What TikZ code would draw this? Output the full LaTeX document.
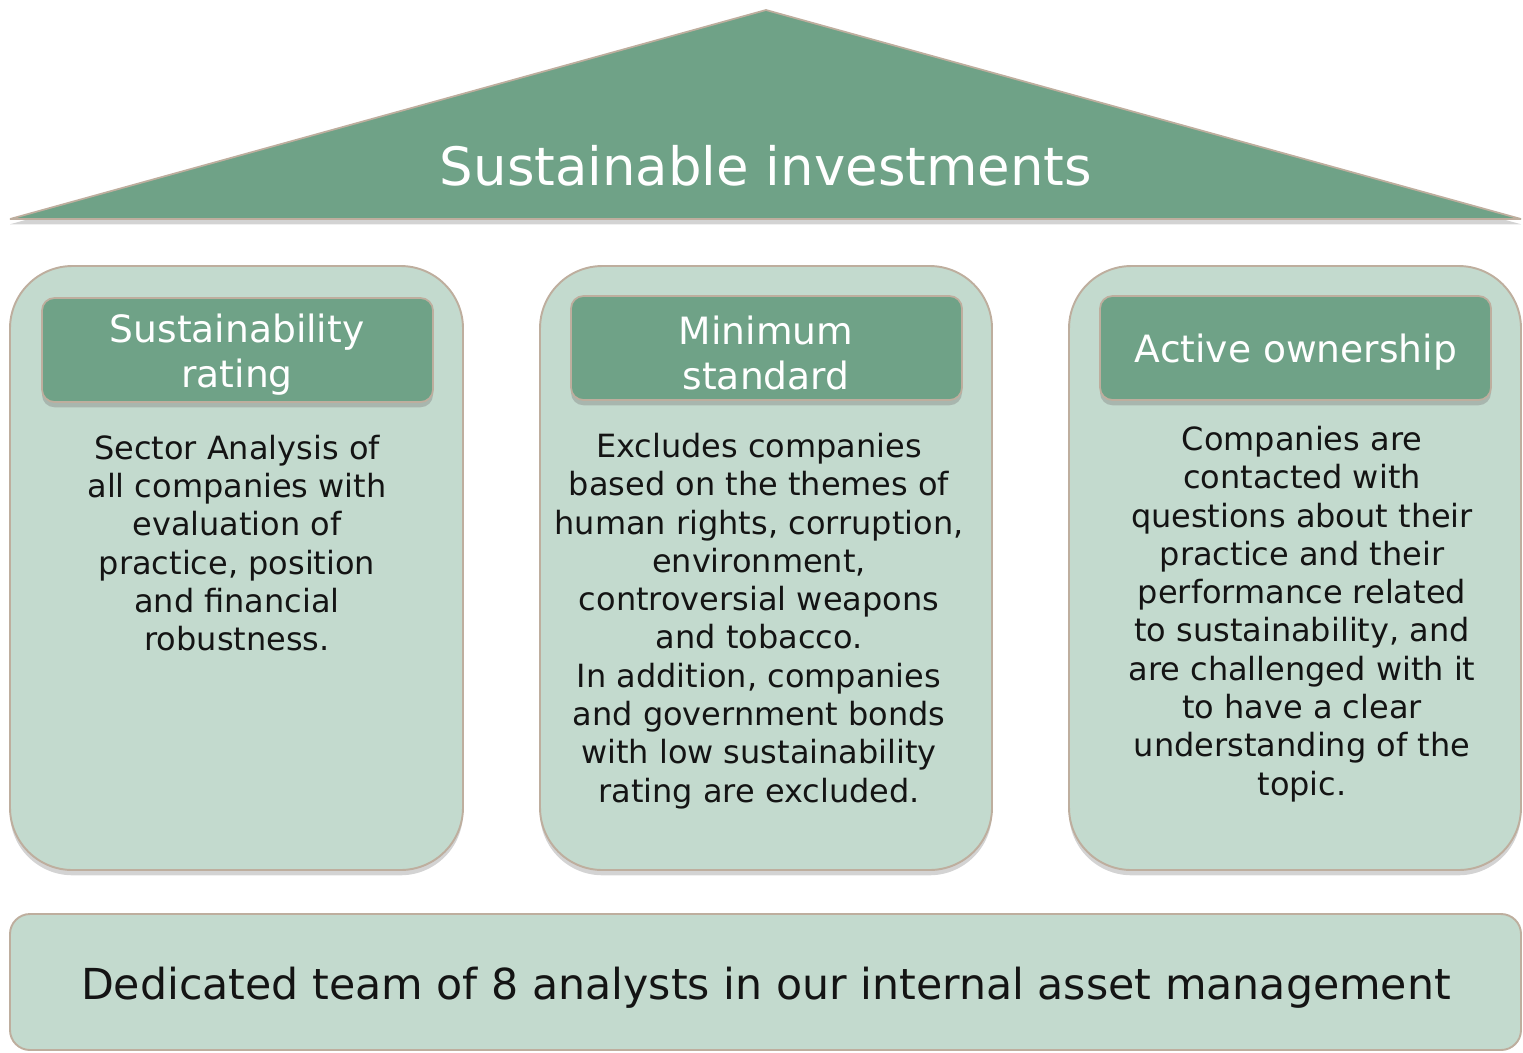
\documentclass[tikz,border=0pt]{standalone}
\usepackage{fontspec}
\setmainfont{DejaVu Sans}
\usetikzlibrary{shadows}

\definecolor{roofgreen}{RGB}{111,162,135}
\definecolor{palegreen}{RGB}{195,218,206}
\definecolor{rimtan}{RGB}{190,174,158}
\definecolor{bodytext}{RGB}{20,20,20}

\tikzset{
  pillar/.style={fill=palegreen, draw=rimtan, line width=1.1pt, rounded corners=1.25cm,
    drop shadow={shadow xshift=0pt, shadow yshift=-3pt, opacity=0.35}},
  pillarhead/.style={fill=roofgreen, draw=rimtan, line width=1pt, rounded corners=0.25cm,
    drop shadow={shadow xshift=0pt, shadow yshift=-3pt, opacity=0.4}},
  headtext/.style={text=white, align=center, font=\fontsize{21.4}{25.5}\selectfont},
  pillartext/.style={text=bodytext, align=center, font=\fontsize{18.2}{21.8}\selectfont}
}

\begin{document}
\begin{tikzpicture}[x=0.02cm, y=-0.02cm]
  \useasboundingbox (0,0) rectangle (1523,1052);
  % roof
  \fill[roofgreen, draw=rimtan, line width=1pt, line join=bevel,
    drop shadow={shadow xshift=0pt, shadow yshift=-3pt, opacity=0.35}]
    (10,219) -- (766,10) -- (1521,219) -- cycle;
  \node[text=white, font=\fontsize{30.1}{36}\selectfont] (roof) at (766,166) {Sustainable investments};
  % three pillars
  \draw[pillar] (10,266) rectangle (463,870);
  \draw[pillar] (540,266) rectangle (992,870);
  \draw[pillar] (1069,266) rectangle (1521,870);
  \draw[pillarhead] (42,298) rectangle (433,402);
  \draw[pillarhead] (571,296) rectangle (962,400);
  \draw[pillarhead] (1100,296) rectangle (1491,400);
  \node[headtext] (ratinghead) at (237,355) {Sustainability\\rating};
  \node[headtext] (minimumhead) at (766,353) {Minimum\\standard};
  \node[headtext] (ownershiphead) at (1296,352) {Active ownership};
  \node[pillartext] (ratingtext) at (237,543) {Sector Analysis of\\all companies with\\evaluation of\\practice, position\\and financial\\robustness.};
  \node[pillartext] (minimumtext) at (759,621) {Excludes companies\\based on the themes of\\human rights, corruption,\\environment,\\controversial weapons\\and tobacco.\\In addition, companies\\and government bonds\\with low sustainability\\rating are excluded.};
  \node[pillartext] (ownershiptext) at (1302,614) {Companies are\\contacted with\\questions about their\\practice and their\\performance related\\to sustainability, and\\are challenged with it\\to have a clear\\understanding of the\\topic.};
  % foundation
  \draw[fill=palegreen, draw=rimtan, line width=1.1pt, rounded corners=0.4cm] (10,914) rectangle (1521,1050);
  \node[text=bodytext, font=\fontsize{24.3}{29}\selectfont] (team) at (766,988) {Dedicated team of 8 analysts in our internal asset management};
\end{tikzpicture}
\end{document}
